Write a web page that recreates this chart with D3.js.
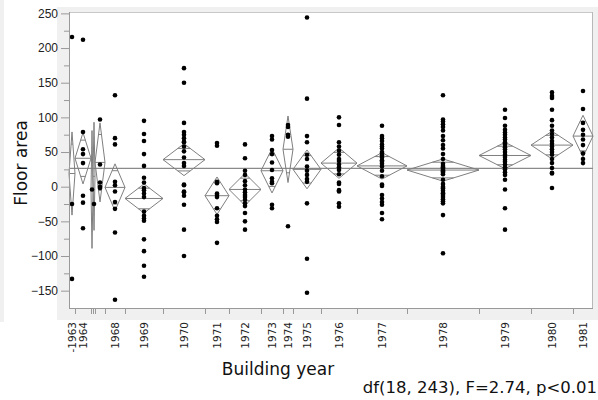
<!DOCTYPE html>
<html>
<head>
<meta charset="utf-8">
<script src="https://cdn.jsdelivr.net/npm/d3@7"></script>
<style>
  body { margin: 0; background: #fff; }
  svg { display: block; font-family: "DejaVu Sans", sans-serif; }
  .axis path, .axis line { stroke: #999; }
  .axis text { fill: #222; }
</style>
</head>
<body>
<script>
// groups of building year, with group sizes (width of each group is proportional to n)
var years  = ["-1963","1964","1965","1966","1967","1968","1969","1970","1971","1972","1973","1974","1975","1976","1977","1978","1979","1980","1981"];
var counts = [3, 8, 1, 1, 5, 10, 19, 21, 12, 16, 11, 5, 14, 18, 25, 36, 26, 21, 10];
var means  = [19, 41, -4, 15, 35, -1, -17, 39, -13, -4, 23, 54, 25, 34, 30, 24, 45, 60, 73];
var halfCI = [60, 37, 85, 78, 57, 34, 21, 23, 27, 23, 32, 48, 28, 22, 19, 16, 19, 20, 30];
var grandMean = 26.5;
var hiddenLabels = ["1965","1966","1967"];
var yTicks = [-150, -100, -50, 0, 50, 100, 150, 200, 250];

// floor area observations per group
var points = [
  [216, -25, -133],
  [212, 79, 54, 47, 34, -13, -23, -60],
  [-4],
  [-25],
  [97, 32, 6, 0, -2],
  [132, 70, 61, 7, 2, -7, -22, -32, -66, -163],
  [95, 76, 66, 47, 30, 13, 6, -2, -5, -10, -15, -36, -42, -46, -49, -76, -93, -114, -130],
  [171, 150, 92, 79, 75, 70, 65, 64, 58, 51, 42, 34, 30, 3, 2, -7, -8, -13, -26, -62, -100],
  [63, 59, 7, 5, -10, -12, -15, -31, -42, -47, -51, -81],
  [61, 41, 23, 17, 8, 2, -4, -8, -12, -15, -19, -24, -28, -38, -50, -62],
  [73, 68, 53, 47, 35, 24, 12, 7, 5, -26, -31],
  [89, 86, 75, 72, -57],
  [244, 127, 73, 64, 46, 40, 29, 23, 17, 11, 7, -24, -104, -153],
  [100, 89, 64, 58, 52, 46, 40, 37, 32, 28, 24, 18, 6, 4, -5, -7, -24, -29],
  [88, 73, 70, 66, 61, 58, 55, 50, 48, 45, 42, 38, 36, 33, 29, 23, 15, 3, 1, -12, -17, -22, -26, -38, -47],
  [132, 97, 94, 90, 86, 81, 73, 67, 60, 55, 47, 40, 33, 30, 28, 26, 24, 23, 22, 20, 18, 10, 4, 0, -2, -3, -6, -9, -10, -12, -15, -18, -21, -24, -41, -96],
  [111, 99, 88, 82, 78, 75, 71, 68, 64, 61, 57, 54, 50, 46, 43, 39, 36, 32, 28, 25, 21, 17, 10, -4, -31, -62],
  [136, 131, 128, 111, 96, 88, 81, 76, 71, 66, 62, 58, 54, 50, 46, 40, 34, 27, 20, 19, -2],
  [138, 112, 92, 82, 75, 68, 60, 48, 40, 34]
];

var W = 598, H = 400;
var plot = {left: 69, right: 593, top: 12, bottom: 308};

var svg = d3.select("body").append("svg")
    .attr("width", W)
    .attr("height", H);

// gray panels behind the axes
svg.append("rect").attr("x", 0).attr("y", 0).attr("width", 4).attr("height", 322).attr("fill", "#f0f0f0");
svg.append("rect").attr("x", 57).attr("y", 7).attr("width", W - 57).attr("height", 313).attr("fill", "#f0f0f0");
svg.append("rect")
    .attr("x", plot.left).attr("y", plot.top)
    .attr("width", plot.right - plot.left).attr("height", plot.bottom - plot.top)
    .attr("fill", "#fff");

// cumulative counts give group boundaries
var cum = [0];
counts.forEach(function(c, i) { cum.push(cum[i] + c); });
var total = cum[cum.length - 1];

var xScale = d3.scaleLinear().domain([0, total]).range([plot.left, plot.right]);
var yScale = d3.scaleLinear().domain([-175, 252]).range([plot.bottom, plot.top]);

var groups = years.map(function(y, i) {
  return {
    year: y,
    x0: xScale(cum[i]),
    x1: xScale(cum[i + 1]),
    xc: xScale((cum[i] + cum[i + 1]) / 2),
    mean: means[i],
    half: halfCI[i],
    pts: points[i]
  };
});

// frame top / right
svg.append("line").attr("x1", plot.left).attr("x2", plot.right)
  .attr("y1", plot.top + 0.5).attr("y2", plot.top + 0.5).attr("stroke", "#c8c8c8");
svg.append("line").attr("x1", plot.right - 0.5).attr("x2", plot.right - 0.5)
  .attr("y1", plot.top).attr("y2", plot.bottom).attr("stroke", "#b8b8b8");

// grand mean line
svg.append("line")
  .attr("x1", plot.left).attr("x2", plot.right)
  .attr("y1", yScale(grandMean)).attr("y2", yScale(grandMean))
  .attr("stroke", "#8a8a8a").attr("stroke-width", 1.2);

// means diamonds
var dg = svg.append("g").attr("fill", "none").attr("stroke", "#7f7f7f").attr("stroke-width", 1);
groups.forEach(function(g) {
  var yt = yScale(g.mean + g.half), yb = yScale(g.mean - g.half), ym = yScale(g.mean);
  dg.append("path")
    .attr("d", "M" + g.x0 + "," + ym + "L" + g.xc + "," + yt + "L" + g.x1 + "," + ym + "L" + g.xc + "," + yb + "Z");
  dg.append("line").attr("x1", g.x0).attr("x2", g.x1).attr("y1", ym).attr("y2", ym);
  // overlap marks
  var k = Math.SQRT1_2;
  var hw = (g.x1 - g.x0) / 2 * (1 - k);
  [g.mean + g.half * k, g.mean - g.half * k].forEach(function(v) {
    dg.append("line").attr("x1", g.xc - hw).attr("x2", g.xc + hw)
      .attr("y1", yScale(v)).attr("y2", yScale(v));
  });
});

// points
groups.forEach(function(g) {
  svg.append("g").selectAll("circle")
    .data(g.pts)
    .enter().append("circle")
      .attr("cx", g.xc)
      .attr("cy", function(d) { return yScale(d); })
      .attr("r", 2.3)
      .attr("fill", "#000");
});

// y axis
var yAxis = d3.axisLeft(yScale).tickValues(yTicks).tickSize(8).tickPadding(3);
var yg = svg.append("g").attr("class", "axis")
  .attr("transform", "translate(" + plot.left + ",0)")
  .call(yAxis);
yg.select(".domain").remove();
yg.selectAll("text").style("font-size", "12px");
yg.append("g").selectAll("line")
  .data(yTicks.map(function(t) { return t + 25; }).concat([-175 + 0]).filter(function(t) { return t > -175 && t < 252; }))
  .enter().append("line")
    .attr("x1", -5).attr("x2", 0)
    .attr("y1", function(d) { return yScale(d) + 0.5; })
    .attr("y2", function(d) { return yScale(d) + 0.5; })
    .attr("stroke", "#999");
svg.append("line").attr("x1", plot.left + 0.5).attr("x2", plot.left + 0.5)
  .attr("y1", plot.top).attr("y2", plot.bottom + 0.5).attr("stroke", "#999");

// x axis: boundaries as ticks, labels at group centres
svg.append("line").attr("x1", plot.left).attr("x2", plot.right)
  .attr("y1", plot.bottom + 0.5).attr("y2", plot.bottom + 0.5).attr("stroke", "#999");
svg.append("g").selectAll("line")
  .data(cum.slice(1, cum.length - 1))
  .enter().append("line")
    .attr("x1", function(d) { return Math.round(xScale(d)) + 0.5; })
    .attr("x2", function(d) { return Math.round(xScale(d)) + 0.5; })
    .attr("y1", plot.bottom).attr("y2", plot.bottom + 6)
    .attr("stroke", "#999");
svg.append("g").selectAll("text")
  .data(groups.filter(function(g) { return hiddenLabels.indexOf(g.year) < 0; }))
  .enter().append("text")
    .attr("transform", function(g) { return "translate(" + g.xc + ",322) rotate(-90)"; })
    .attr("text-anchor", "end")
    .attr("dy", "0.35em")
    .style("font-size", "10.5px")
    .attr("fill", "#222")
    .text(function(g) { return g.year; });

// titles
svg.append("text")
  .attr("transform", "translate(27,163) rotate(-90)")
  .attr("text-anchor", "middle")
  .style("font-size", "17px")
  .attr("fill", "#111")
  .text("Floor area");
svg.append("text")
  .attr("x", 278).attr("y", 375)
  .attr("text-anchor", "middle")
  .style("font-size", "17px")
  .attr("fill", "#111")
  .text("Building year");
svg.append("text")
  .attr("x", 597).attr("y", 393)
  .attr("text-anchor", "end")
  .style("font-size", "16.5px")
  .attr("fill", "#111")
  .text("df(18, 243), F=2.74, p<0.01");
</script>
</body>
</html>
